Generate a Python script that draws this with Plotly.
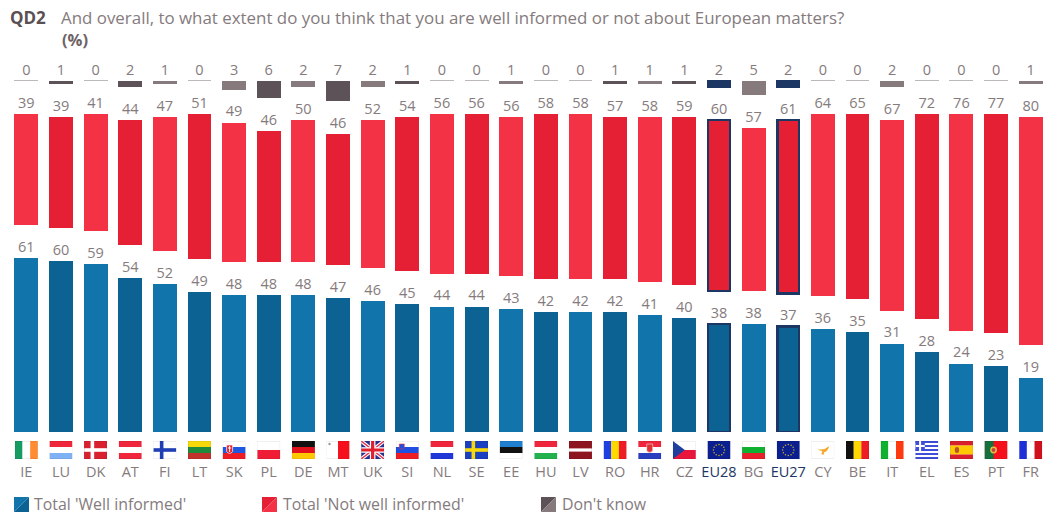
import base64
import math
import plotly.graph_objects as go

# Survey results per country (%)
countries = ["IE","LU","DK","AT","FI","LT","SK","PL","DE","MT","UK","SI","NL","SE","EE",
             "HU","LV","RO","HR","CZ","EU28","BG","EU27","CY","BE","IT","EL","ES","PT","FR"]
well_informed = [61,60,59,54,52,49,48,48,48,47,46,45,44,44,43,42,42,42,41,40,38,38,37,36,35,31,28,24,23,19]
not_well_informed = [39,39,41,44,47,51,49,46,50,46,52,54,56,56,56,58,58,57,58,59,60,57,61,64,65,67,72,76,77,80]
dont_know = [0,1,0,2,1,0,3,6,2,7,2,1,0,0,1,0,0,1,1,1,2,5,2,0,0,2,0,0,0,1]

W, H = 1048, 515
LEFT, BASE = 9, 432
PX_PER_UNIT = 2.85
GAP = 11.58  # empty band between the stacked groups, in % units
LABEL_LIFT = 0.9  # distance from a bar top to its value label, in % units
BAR_WIDTH = 0.69
EDGE = 2.4  # outline of the EU bars, px
TEXT = "#857b7d"
NAVY = "#1c3763"
FONT = "Open Sans"
EU = {"EU28", "EU27"}
n = len(countries)
x = list(range(n))


def px(v):
    return (v - LEFT) / (W - LEFT)


def py(v):
    return 1 - v / BASE


def shade(light, dark):
    # Bars alternate in tone; the sequence restarts at the EU28 bar.
    return [light if (i % 2 == 0) != (i >= 20) else dark for i in x]


def band(kind, colors, w=23, h=18):
    out = ""
    for i, c in enumerate(colors):
        if kind == "h":
            out += f'<rect x="0" y="{i*h/len(colors)}" width="{w}" height="{h/len(colors)+.1}" fill="{c}"/>'
        else:
            out += f'<rect x="{i*w/len(colors)}" y="0" width="{w/len(colors)+.1}" height="{h}" fill="{c}"/>'
    return out


def nordic(bg, cross):
    return (f'<rect width="23" height="18" fill="{bg}"/>'
            f'<rect x="6.5" width="3.6" height="18" fill="{cross}"/><rect y="7.2" width="23" height="3.6" fill="{cross}"/>')


def eu_stars():
    dots = "".join(
        f'<circle cx="{11.5+5.6*math.cos(k*math.pi/6):.2f}" cy="{9+5.6*math.sin(k*math.pi/6):.2f}" r=".75" fill="#c9b52a"/>'
        for k in range(12))
    return '<rect width="23" height="18" fill="#0b1f8f"/>' + dots


UK = ('<rect width="23" height="18" fill="#2a2f8f"/>'
      '<path d="M0 0L23 18M23 0L0 18" stroke="#fff" stroke-width="3.6"/>'
      '<path d="M0 0L23 18M23 0L0 18" stroke="#e0334a" stroke-width="1.4"/>'
      '<path d="M11.5 0V18M0 9H23" stroke="#fff" stroke-width="5.6"/>'
      '<path d="M11.5 0V18M0 9H23" stroke="#e0202f" stroke-width="3.2"/>')
GREECE = (band("h", ["#3f4fd8", "#fff"] * 4 + ["#3f4fd8"]) +
          '<rect width="9.5" height="10" fill="#3f4fd8"/><rect x="3.8" width="2" height="10" fill="#fff"/><rect y="4" width="9.5" height="2" fill="#fff"/>')

flags = {
    "IE": band("v", ["#169b62", "#ffffff", "#ff8c32"]),
    "LU": band("h", ["#f0263c", "#ffffff", "#7fb2f5"]),
    "DK": nordic("#d8202f", "#ffffff"),
    "AT": band("h", ["#f0263c", "#ffffff", "#f0263c"]),
    "FI": nordic("#ffffff", "#1f3fb5"),
    "LT": band("h", ["#f5d90a", "#1f8a3c", "#c0322b"]),
    "SK": band("h", ["#ffffff", "#1f58e0", "#ee1c25"]) +
          '<path d="M4 4h6v6.5q-3 4-6 0z" fill="#ee1c25" stroke="#fff" stroke-width=".7"/><path d="M7 5v6M5.4 7h3.2" stroke="#fff"/>',
    "PL": band("h", ["#ffffff", "#ee1c35"]),
    "DE": band("h", ["#111111", "#e0101c", "#ffc800"]),
    "MT": band("v", ["#ffffff", "#f5101c"]) + '<circle cx="3" cy="3" r="1.2" fill="#999"/>',
    "UK": UK,
    "SI": band("h", ["#ffffff", "#1f4fe0", "#ee1c25"]) +
          '<path d="M3.5 3h5v4q-2.5 3-5 0z" fill="#1f4fe0" stroke="#e33" stroke-width=".6"/>',
    "NL": band("h", ["#f0263c", "#ffffff", "#2038d8"]),
    "SE": nordic("#1a3fc0", "#f5d90a"),
    "EE": band("h", ["#1f7fd0", "#111111", "#ffffff"]),
    "HU": band("h", ["#f0263c", "#ffffff", "#22b14c"]),
    "LV": '<rect width="23" height="18" fill="#8e1420"/><rect y="7.4" width="23" height="3.2" fill="#fff"/>',
    "RO": band("v", ["#1f3fe0", "#ffd800", "#ee1c25"]),
    "HR": band("h", ["#f0263c", "#ffffff", "#2a3fc0"]) +
          '<path d="M8.5 3h6v7q-3 3-6 0z" fill="#d33" stroke="#fff" stroke-width=".5"/>',
    "CZ": band("h", ["#ffffff", "#e8163c"]) + '<path d="M0 0L12 9L0 18z" fill="#1f3f9f"/>',
    "EU28": eu_stars(),
    "BG": band("h", ["#ffffff", "#10b030", "#e8202c"]),
    "EU27": eu_stars(),
    "CY": '<rect width="23" height="18" fill="#fff"/><path d="M6 8q6 2 12-3q-2 6-5 6l-1 3l-2-1l1-3q-3 0-5-2z" fill="#f2a92c"/>',
    "BE": band("v", ["#111111", "#ffd800", "#ee1c25"]),
    "IT": band("v", ["#10b030", "#ffffff", "#ff3a10"]),
    "EL": GREECE,
    "ES": band("h", ["#d81e2c", "#ffc800", "#ffc800", "#d81e2c"]) + '<ellipse cx="7" cy="9" rx="2.2" ry="3" fill="#b5542c"/>',
    "PT": '<rect width="23" height="18" fill="#f5101c"/><rect width="9" height="18" fill="#14703c"/>'
          '<circle cx="9" cy="9" r="3.4" fill="#e6c040"/><circle cx="9" cy="9" r="1.9" fill="#c8403c"/>',
    "FR": band("v", ["#1f2fd8", "#ffffff", "#d0101c"]),
}


def flag_uri(code):
    svg = ('<svg xmlns="http://www.w3.org/2000/svg" width="23" height="18" viewBox="0 0 23 18">'
           + flags[code] + '<rect x=".25" y=".25" width="22.5" height="17.5" fill="none" stroke="#000" stroke-opacity=".12" stroke-width=".5"/></svg>')
    return "data:image/svg+xml;base64," + base64.b64encode(svg.encode()).decode()


def outline(zero_from=None):
    widths, colors = [], []
    for i, c in enumerate(countries):
        if c in EU:
            widths.append(EDGE)
            colors.append(NAVY)
        elif zero_from is not None and zero_from[i] == 0:
            widths.append(1)
            colors.append("#bdb8b9")
        else:
            widths.append(0)
            colors.append("rgba(0,0,0,0)")
    return dict(width=widths, color=colors)


# Outlined bars are narrowed so their outer edge lines up with the other bars.
slot_px = (W - LEFT) / n
widths = [BAR_WIDTH - EDGE / slot_px if c in EU else BAR_WIDTH for c in countries]

fig = go.Figure()


def add_bar(values, colors, name, line):
    fig.add_bar(x=x, y=values, name=name, marker=dict(color=colors, line=line),
                width=widths, showlegend=False, hoverinfo="y+name")


def add_spacer():
    fig.add_bar(x=x, y=[GAP] * n, marker=dict(color="rgba(0,0,0,0)", line=dict(width=0)),
                width=widths, showlegend=False, hoverinfo="skip")


blue = shade("#1175ab", "#0d6294")
red = shade("#f43245", "#e52034")
grey = [NAVY if c in EU else s for c, s in zip(countries, shade("#877a7c", "#5d5257"))]

add_bar(well_informed, blue, "Total 'Well informed'", outline())
add_spacer()
add_bar(not_well_informed, red, "Total 'Not well informed'", outline())
add_spacer()
add_bar(dont_know, grey, "Don't know", outline(zero_from=dont_know))

# Value labels sit just above the top of each group; the last row sits over the stack top.
red_tops = [b + GAP + r for b, r in zip(well_informed, not_well_informed)]
stack_top = 100 + 2 * GAP
for tops, vals in ((well_informed, well_informed), (red_tops, not_well_informed), ([stack_top] * n, dont_know)):
    fig.add_scatter(x=x, y=[t + LABEL_LIFT for t in tops], mode="text", text=[str(v) for v in vals],
                    textposition="top center", textfont=dict(family=FONT, size=14.5, color=TEXT),
                    showlegend=False, hoverinfo="skip", cliponaxis=False)

images = [dict(source=flag_uri(c), xref="x", yref="paper", x=i, y=py(441), sizex=23 / slot_px, sizey=18 / BASE,
               xanchor="center", yanchor="top", sizing="stretch", layer="above")
          for i, c in enumerate(countries)]

annotations = [
    dict(text="<b>QD2</b>", x=px(8), y=py(17), font=dict(size=17, color="#5a5053")),
    dict(text="And overall, to what extent do you think that you are well informed or not about European matters?",
         x=px(59), y=py(17), font=dict(size=16.9, color=TEXT)),
    dict(text="<b>(%)</b>", x=px(60), y=py(40), font=dict(size=16.5, color="#6d6366")),
]

shapes = []
legend_items = [(14, 32, "Total 'Well informed'", "#0d6294", "#1175ab"),
                (262, 281, "Total 'Not well informed'", "#f43245", "#e52034"),
                (541, 560, "Don't know", "#877a7c", "#5d5257")]
for sx, tx, label, c1, c2 in legend_items:
    annotations.append(dict(text=label, x=px(tx), y=py(504), font=dict(size=15.9, color=TEXT)))
    x0, x1, y0, y1 = px(sx), px(sx + 15), py(497), py(512)
    shapes.append(dict(type="path", xref="paper", yref="paper", line=dict(width=0), fillcolor=c2,
                       path=f"M{x0},{y1} L{x0},{y0} L{x1},{y0} Z"))
    shapes.append(dict(type="path", xref="paper", yref="paper", line=dict(width=0), fillcolor=c1,
                       path=f"M{x0},{y1} L{x1},{y1} L{x1},{y0} Z"))
for a in annotations:
    a.update(xref="paper", yref="paper", xanchor="left", yanchor="middle", showarrow=False, align="left")
    a["font"]["family"] = FONT

ticktext = [f'<span style="color:{NAVY}">{c}</span>' if c in EU else c for c in countries]

fig.update_layout(
    width=W, height=H, barmode="stack", plot_bgcolor="white", paper_bgcolor="white",
    margin=dict(l=LEFT, r=0, t=0, b=H - BASE, autoexpand=False),
    xaxis=dict(range=[-0.5, n - 0.5], tickmode="array", tickvals=x, ticktext=ticktext, showgrid=False,
               zeroline=False, showline=False, ticks="outside", ticklen=27, tickcolor="rgba(0,0,0,0)",
               tickfont=dict(family=FONT, size=14.5, color=TEXT), tickangle=0, fixedrange=True),
    yaxis=dict(range=[0, BASE / PX_PER_UNIT], visible=False, fixedrange=True),
    images=images, annotations=annotations, shapes=shapes, showlegend=False,
)

fig.write_html("out.html", config=dict(displayModeBar=False))
